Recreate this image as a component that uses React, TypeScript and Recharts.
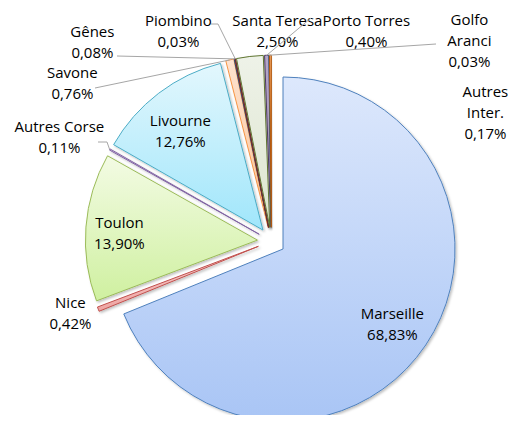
import React from 'react';
import { PieChart, Pie, Cell, Sector } from 'recharts';

const ports = ['Marseille', 'Nice', 'Toulon', 'Autres Corse', 'Livourne', 'Savone', 'Gênes', 'Piombino', 'Santa Teresa', 'Porto Torres', 'Golfo Aranci', 'Autres Inter.'];
const shares = [68.83, 0.42, 13.9, 0.11, 12.76, 0.76, 0.08, 0.03, 2.5, 0.4, 0.03, 0.17];
const nameLines = [['Marseille'], ['Nice'], ['Toulon'], ['Autres Corse'], ['Livourne'], ['Savone'], ['Gênes'], ['Piombino'], ['Santa Teresa'], ['Porto Torres'], ['Golfo', 'Aranci'], ['Autres', 'Inter.']];

const strokes = ['#4f81bd', '#c0504d', '#9bbb59', '#8064a2', '#4bacc6', '#f79646', '#2c4d75', '#772c2a', '#5f7530', '#4d3b62', '#276a7c', '#b65708'];
const gradTop = ['#dde8fc', '#f8cfce', '#f3fbe4', '#d9cde8', '#e3f7fd', '#fde2cf', '#8fa9d0', '#d08f8d', '#eef2e8', '#b5a6c9', '#8cc7d8', '#f1a96c'];
const gradBottom = ['#a9c5f5', '#eea5a3', '#cff0a0', '#b7a3d2', '#a0e6fb', '#fbc499', '#6d8bbb', '#b8706e', '#dde5cf', '#9a88b3', '#62afc4', '#e58a3f'];

// label centre offsets from pie centre (px)
const labelPos = [[121, 82], [-201, 71], [-152, -9], [-212, -105], [-91, -111], [-199, -159], [-179, -200], [-93, -211], [6, -211], [95, -211], [198, -201], [214, -129]];
// leader line points after the slice edge (offsets from pie centre), null = none
const leaders: (number[][] | null)[] = [
  null, null, null,
  [[-164.4, -99.2], [-173.4, -99.2]],
  null,
  [[-176.4, -153.2]],
  [[-154.4, -185.2]],
  [[-53.4, -217.2], [-60.4, -217.2]],
  null,
  [[39.6, -223.2]],
  [[164.6, -197.2]],
  null,
];

const data = ports.map((name, i) => ({ name, value: shares[i] }));

const EXPLODE = 14;
const RAD = Math.PI / 180;
const FONT = '"Open Sans", sans-serif';

const renderSector = (props: any) => {
  const { cx, cy, midAngle, innerRadius, outerRadius, startAngle, endAngle, fill, stroke } = props;
  const dx = EXPLODE * Math.cos(-midAngle * RAD);
  const dy = EXPLODE * Math.sin(-midAngle * RAD);
  return (
    <Sector
      cx={cx + dx}
      cy={cy + dy}
      innerRadius={innerRadius}
      outerRadius={outerRadius}
      startAngle={startAngle}
      endAngle={endAngle}
      fill={fill}
      stroke={stroke}
      strokeWidth={1}
      filter="url(#shadow)"
    />
  );
};

const renderLabel = (props: any) => {
  const { cx, cy, midAngle, outerRadius, index } = props;
  const [lx, ly] = labelPos[index];
  const lines = [...nameLines[index], shares[index].toFixed(2).replace('.', ',') + '%'];
  const n = lines.length;
  const r = outerRadius + EXPLODE;
  const sx = cx + r * Math.cos(-midAngle * RAD);
  const sy = cy + r * Math.sin(-midAngle * RAD);
  const lead = leaders[index];
  const pts = lead ? [[sx, sy], ...lead.map(([x, y]) => [cx + x, cy + y])] : null;
  return (
    <g key={'lbl' + index}>
      {pts && (
        <polyline points={pts.map((p) => p.join(',')).join(' ')} fill="none" stroke="#a6a6a6" strokeWidth={1} />
      )}
      <text x={cx + lx} y={cy + ly} textAnchor="middle" fontFamily={FONT} fontSize={15} fill="#000">
        {lines.map((t, i) => (
          <tspan key={i} x={cx + lx} y={cy + ly + (i - (n - 1) / 2) * 21} dominantBaseline="central">
            {t}
          </tspan>
        ))}
      </text>
    </g>
  );
};

export default function App() {
  const pieProps: any = {
    shape: renderSector,
    inactiveShape: renderSector,
    activeShape: renderSector,
  };
  return (
    <div style={{ width: 516, height: 423, margin: -8, background: '#fff' }}>
      <PieChart width={516} height={423} margin={{ top: 0, right: 0, bottom: 0, left: 0 }}>
        <defs>
          <filter id="shadow" x="-20%" y="-20%" width="140%" height="140%">
            <feDropShadow dx="1.5" dy="1.5" stdDeviation="1.2" floodColor="#000" floodOpacity="0.25" />
          </filter>
          {gradTop.map((c, i) => (
            <linearGradient key={i} id={'g' + i} x1="0" y1="0" x2="0" y2="1">
              <stop offset="0%" stopColor={c} />
              <stop offset="100%" stopColor={gradBottom[i]} />
            </linearGradient>
          ))}
        </defs>
        <Pie
          data={data}
          dataKey="value"
          nameKey="name"
          cx={271.4}
          cy={241.2}
          innerRadius={0}
          outerRadius={172}
          startAngle={90}
          endAngle={-270}
          paddingAngle={0}
          isAnimationActive={false}
          {...pieProps}
          label={renderLabel}
          labelLine={false}
        >
          {data.map((d, i) => (
            <Cell key={d.name} fill={`url(#g${i})`} stroke={strokes[i]} />
          ))}
        </Pie>
      </PieChart>
    </div>
  );
}
